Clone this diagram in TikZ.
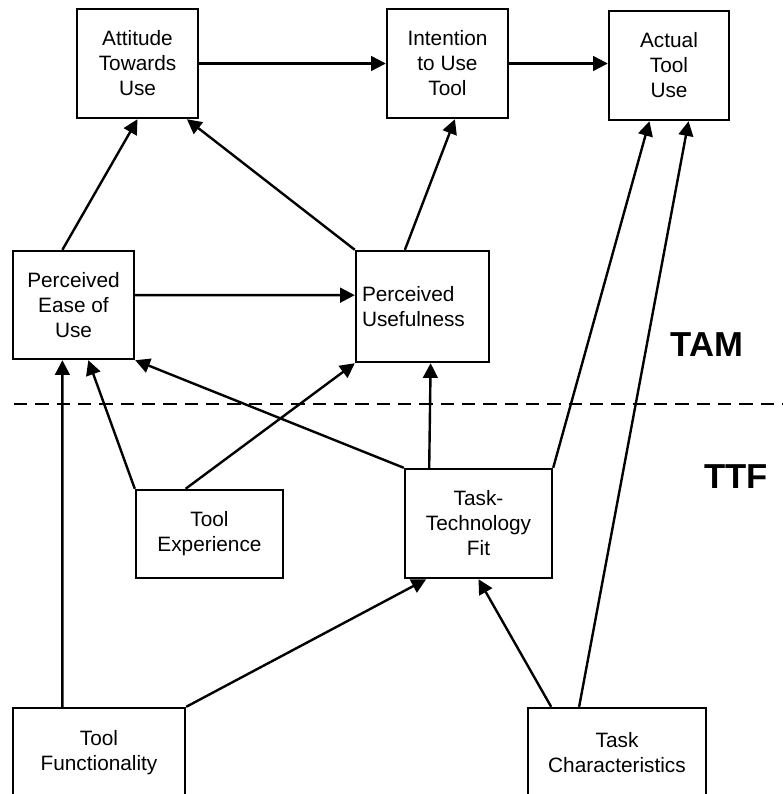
\documentclass[tikz,border=0pt]{standalone}
\usepackage{fontspec}
\setmainfont{Liberation Sans}
\usetikzlibrary{calc,arrows.meta}

\begin{document}
\begin{tikzpicture}[x=0.75pt,y=-0.75pt,
  box/.style={draw,line width=1.8pt,inner sep=0pt,align=center,
    font=\fontsize{15.6}{18.75}\selectfont},
  arr/.style={line width=1.8pt,-{Triangle[length=11pt,width=11pt]}},
  lbl/.style={font=\fontsize{26}{30}\selectfont\bfseries}]
\useasboundingbox (0,0) rectangle (783,794);
\node [box,minimum width=90.75pt,minimum height=81.75pt] (att) at (137.5,63.5) {Attitude\\Towards\\Use};
\node [box,minimum width=90.75pt,minimum height=81.75pt] (int) at (447.5,63.5) {Intention\\to Use\\Tool};
\node [box,minimum width=90pt,minimum height=81.75pt] (act) at (669,65.5) {Actual\\Tool\\Use};
\node [box,minimum width=90.75pt,minimum height=81pt] (peou) at (73.5,305) {Perceived\\Ease of\\Use};
\node [box,align=left,inner xsep=4.5pt,text width=90.75pt,minimum height=83.25pt] (pu) at (422.5,306.5) {Perceived\\Usefulness};
\node [box,minimum width=110.25pt,minimum height=66pt] (te) at (209.5,534) {Tool\\Experience};
\node [box,minimum width=110.25pt,minimum height=81.75pt] (ttf) at (478.5,523.5) {Task-\\Technology\\Fit};
\node [box,minimum width=129pt,minimum height=66.75pt] (tf) at (99,752.5) {Tool\\Functionality};
\node [box,minimum width=133.5pt,minimum height=66.75pt] (tc) at (617,752.5) {Task\\Characteristics};
\node [lbl] (tam) at (707,345) {TAM};
\node [lbl] (ttfl) at (736,477) {TTF};

\draw [line width=1.8pt,dash pattern=on 10pt off 6pt] (14,404) -- (783,404);

\draw [arr] (att.east) -- (int.west);
\draw [arr] (int.east) -- (int.east -| act.west);
\draw [arr] ($(peou.north west)!.41!(peou.north east)$) -- (att.south);
\draw [arr] (pu.north west) -- ($(att.south west)!.9!(att.south east)$);
\draw [arr] ($(pu.north west)!.37!(pu.north east)$) -- ($(int.south west)!.56!(int.south east)$);
\draw [arr] ($(peou.south east)!.59!(peou.north east)$) -- ($(pu.south west)!.6!(pu.north west)$);
\draw [arr] ($(tf.north west)!.29!(tf.north east)$) -- ($(peou.south west)!.41!(peou.south east)$);
\draw [arr] (te.north west) -- ($(peou.south west)!.62!(peou.south east)$);
\draw [arr] ($(te.north west)!.34!(te.north east)$) -- (pu.south west);
\draw [arr] (ttf.north west) -- (peou.south east);
\draw [arr] ($(ttf.north west)!.17!(ttf.north east)$) -- ($(pu.south west)!.56!(pu.south east)$);
\draw [arr] (ttf.north east) -- ($(act.south west)!.34!(act.south east)$);
\draw [arr] ($(tc.north west)!.29!(tc.north east)$) -- ($(act.south west)!.66!(act.south east)$);
\draw [arr] (tf.north east) -- ($(ttf.south west)!.15!(ttf.south east)$);
\draw [arr] ($(tc.north west)!.135!(tc.north east)$) -- (ttf.south);
\end{tikzpicture}
\end{document}
